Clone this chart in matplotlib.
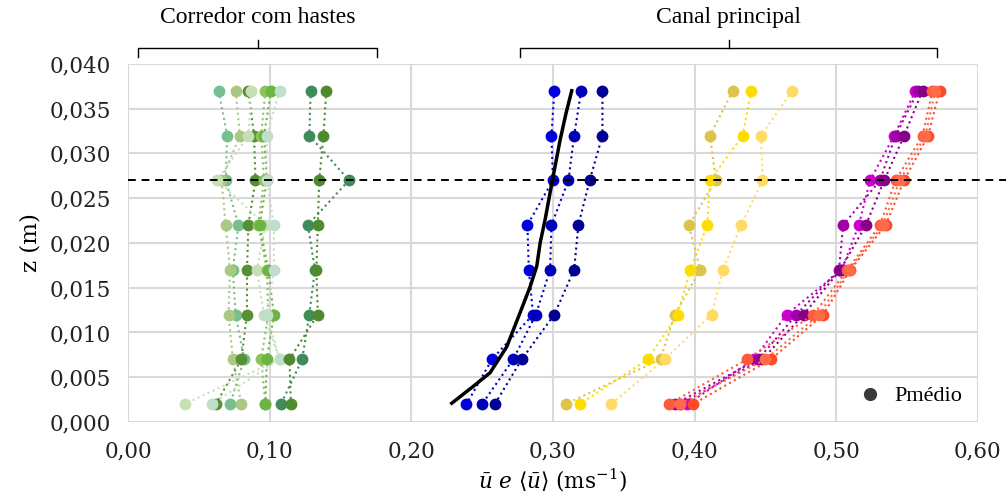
import matplotlib.pyplot as plt
from matplotlib.lines import Line2D

plt.rcParams['font.family'] = 'DejaVu Serif'
plt.rcParams['mathtext.fontset'] = 'dejavuserif'

# heights of the measuring points (m)
z = [0.037, 0.032, 0.027, 0.022, 0.017, 0.012, 0.007, 0.002]

# corredor com hastes (greens)
green_u = [
    [0.064, 0.070, 0.069, 0.078, 0.074, 0.076, 0.082, 0.072],
    [0.076, 0.079, 0.066, 0.069, 0.072, 0.071, 0.074, 0.080],
    [0.085, 0.089, 0.090, 0.085, 0.084, 0.084, 0.080, 0.062],
    [0.087, 0.085, 0.063, 0.097, 0.091, 0.096, 0.107, 0.040],
    [0.097, 0.094, 0.096, 0.092, 0.098, 0.099, 0.094, 0.097],
    [0.101, 0.096, 0.098, 0.093, 0.099, 0.103, 0.098, 0.097],
    [0.107, 0.098, 0.098, 0.103, 0.103, 0.098, 0.107, 0.059],
    [0.129, 0.128, 0.156, 0.127, 0.132, 0.128, 0.123, 0.108],
    [0.140, 0.138, 0.135, 0.134, 0.133, 0.134, 0.114, 0.115],
]
green_colors = ['#77bf8f', '#a9c882', '#578f35', '#c5e0b4', '#8cc35c',
                '#6cb443', '#c0dfcb', '#408b5a', '#4e8a2e']

# canal principal
blue_u = [
    [0.301, 0.299, 0.300, 0.282, 0.283, 0.286, 0.257, 0.239],
    [0.320, 0.315, 0.311, 0.299, 0.298, 0.288, 0.272, 0.250],
    [0.335, 0.335, 0.326, 0.318, 0.315, 0.301, 0.278, 0.259],
]
blue_colors = ['#0000dd', '#0000b8', '#000095']

yellow_u = [
    [0.427, 0.411, 0.415, 0.396, 0.404, 0.386, 0.376, 0.309],
    [0.440, 0.434, 0.411, 0.409, 0.397, 0.388, 0.367, 0.319],
    [0.469, 0.447, 0.448, 0.433, 0.420, 0.412, 0.379, 0.341],
]
yellow_colors = ['#dcc44c', '#ffdc00', '#ffdb66']

red_u = [
    [0.556, 0.541, 0.524, 0.516, 0.504, 0.465, 0.442, 0.395],
    [0.558, 0.542, 0.531, 0.505, 0.502, 0.472, 0.445, 0.386],
    [0.561, 0.548, 0.534, 0.521, 0.503, 0.477, 0.448, 0.390],
    [0.568, 0.561, 0.542, 0.531, 0.508, 0.484, 0.437, 0.382],
    [0.573, 0.565, 0.548, 0.535, 0.510, 0.491, 0.454, 0.399],
    [0.570, 0.563, 0.545, 0.533, 0.509, 0.488, 0.450, 0.390],
]
red_colors = ['#cc00cc', '#a000a8', '#880088', '#ff5a3c', '#ff4a2a', '#ff6a48']

# mean profile <u>
mean_u = [0.2286, 0.2439, 0.2556, 0.2674, 0.2768, 0.2839, 0.2886, 0.2910,
          0.2945, 0.2980, 0.3016, 0.3051, 0.3093, 0.3133]
mean_z = [0.0021, 0.0040, 0.0055, 0.0084, 0.0122, 0.0151, 0.0174, 0.0200,
          0.0226, 0.0256, 0.0286, 0.0315, 0.0345, 0.0370]

ref_x = [0.0, 0.62]
ref_z = [0.027, 0.027]

xticks = [0.0, 0.1, 0.2, 0.3, 0.4, 0.5, 0.6]
xtick_labels = ['0,00', '0,10', '0,20', '0,30', '0,40', '0,50', '0,60']
yticks = [0.0, 0.005, 0.010, 0.015, 0.020, 0.025, 0.030, 0.035, 0.040]
ytick_labels = ['0,000', '0,005', '0,010', '0,015', '0,020', '0,025',
                '0,030', '0,035', '0,040']

fig = plt.figure(figsize=(10.08, 5.03), dpi=100)
ax = fig.add_axes([0.127, 0.161, 0.843, 0.712])

for group, colors in [(green_u, green_colors), (blue_u, blue_colors),
                      (yellow_u, yellow_colors), (red_u, red_colors)]:
    for u, c in zip(group, colors):
        ax.plot(u, z, color=c, linestyle=':', linewidth=1.5, marker='o',
                markersize=8.5, markeredgewidth=0, zorder=3)

ax.plot(mean_u, mean_z, color='black', linewidth=2.5, zorder=4)
ax.plot(ref_x, ref_z, color='black', linestyle=(0, (4, 3)), linewidth=1.4,
        clip_on=False, zorder=5)

ax.set_xlim(0, 0.6)
ax.set_ylim(0, 0.04)
ax.set_xticks(xticks)
ax.set_xticklabels(xtick_labels)
ax.set_yticks(yticks)
ax.set_yticklabels(ytick_labels)
ax.tick_params(length=0, labelsize=15.5, colors='#222222')
ax.tick_params(axis='x', pad=13)
ax.tick_params(axis='y', pad=12)
ax.grid(True, color='#d9d9d9', linewidth=1.5)
ax.set_axisbelow(True)
for s in ax.spines.values():
    s.set_visible(False)

ax.set_xlabel(r'$\bar{u}\ e\ \langle\bar{u}\rangle\ (\mathrm{ms}^{-1})$',
              fontsize=15.5, labelpad=3)
ax.set_ylabel('z (m)', fontsize=16.5, labelpad=6)

# brackets above the plot
def bracket(x0, x1, label):
    xm = (x0 + x1) / 2
    ax.plot([x0, x0, x1, x1], [0.0408, 0.0418, 0.0418, 0.0408],
            color='black', linewidth=1, clip_on=False)
    ax.plot([xm, xm], [0.0418, 0.0427], color='black', linewidth=1,
            clip_on=False)
    ax.text(xm, 0.0452, label, ha='center', va='center', fontsize=17,
            family='Liberation Serif')

bracket(0.007, 0.176, 'Corredor com hastes')
bracket(0.277, 0.571, 'Canal principal')

handle = Line2D([], [], color='#3a3a3a', marker='o', linestyle='none',
                markersize=8.5)
ax.legend([handle], ['Pmédio'], loc='lower right', frameon=False,
          handletextpad=0.1, borderaxespad=0.3,
          prop={'family': 'Liberation Serif', 'size': 16})

fig.savefig('out.png', dpi=100)
